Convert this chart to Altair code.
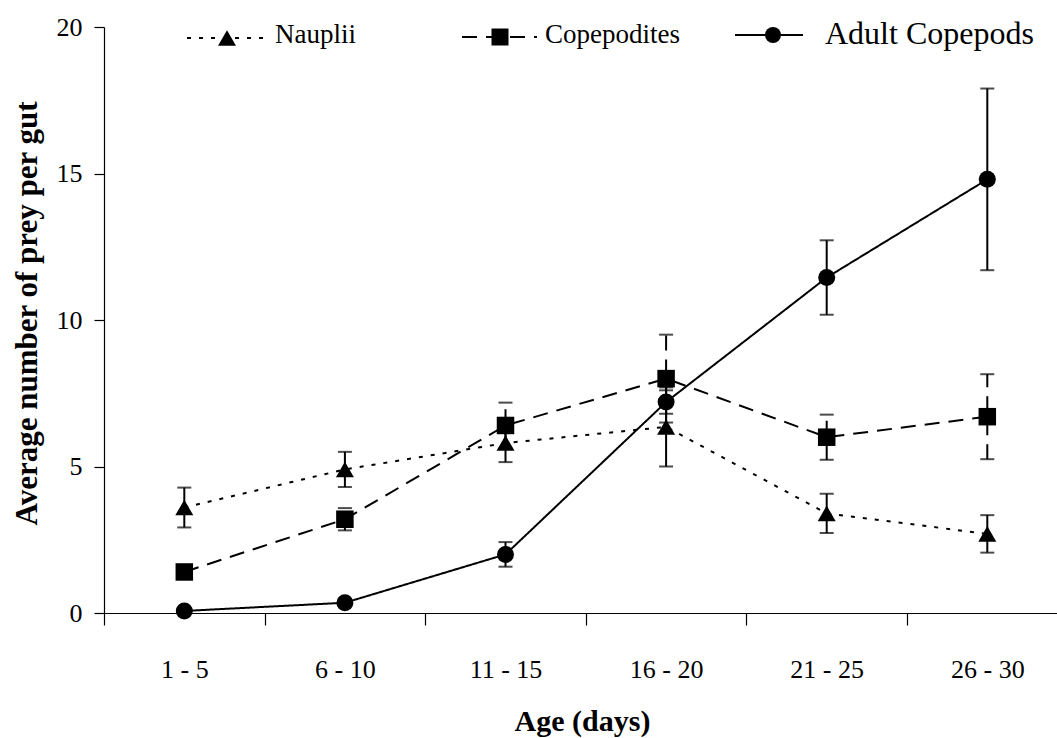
import json
import altair as alt
import pandas as pd

# Age classes on the x axis and the three prey categories
ages = ["1 - 5", "6 - 10", "11 - 15", "16 - 20", "21 - 25", "26 - 30"]
series_names = ["Nauplii", "Copepodites", "Adult Copepods"]

# Mean number of prey per gut and the +/- error for each age class
nauplii_mean = [3.6, 4.9, 5.8, 6.35, 3.4, 2.7]
nauplii_err = [0.68, 0.6, 0.65, 1.35, 0.67, 0.64]
copepodite_mean = [1.4, 3.2, 6.4, 8.0, 6.0, 6.7]
copepodite_err = [0.2, 0.38, 0.78, 1.5, 0.77, 1.45]
adult_mean = [0.07, 0.35, 2.0, 7.2, 11.45, 14.8]
adult_err = [0.05, 0.1, 0.42, 0.4, 1.27, 3.1]

FONT = "Liberation Serif"
W, H = 953, 586
PAD_L, PAD_T = 104, 27
BAND = 160.6  # pixels per age class

rows = []
for name, means, errs in [
    ("Nauplii", nauplii_mean, nauplii_err),
    ("Copepodites", copepodite_mean, copepodite_err),
    ("Adult Copepods", adult_mean, adult_err),
]:
    for i, (m, e) in enumerate(zip(means, errs)):
        rows.append({"idx": i, "age": ages[i], "series": name,
                     "mean": m, "lo": m - e, "hi": m + e})
df = pd.DataFrame(rows)

x_max = -0.5 + W / BAND
x_enc = alt.X(
    "idx:Q",
    scale=alt.Scale(domain=[-0.5, x_max], nice=False, zero=False),
    axis=alt.Axis(
        values=[i - 0.5 for i in range(len(ages))],
        labelExpr=json.dumps(ages) + "[round(datum.value + 0.5)]",
        labelOffset=BAND / 2,
        labelFlush=False,
        labelOverlap=False,
        labelFont=FONT, labelFontSize=26, labelColor="black",
        labelBaseline="alphabetic", labelPadding=52,
        tickSize=12, tickColor="black", tickWidth=1.2,
        domainColor="black", domainWidth=1.2,
        grid=False,
        title="Age (days)", titleFont=FONT, titleFontSize=30,
        titleFontWeight="bold", titleColor="black",
        titleBaseline="alphabetic", titleX=478, titleY=117,
    ),
)
y_scale = alt.Scale(domain=[0, 20], nice=False)
y_enc = alt.Y(
    "mean:Q",
    scale=y_scale,
    axis=alt.Axis(
        values=[0, 5, 10, 15, 20],
        labelFont=FONT, labelFontSize=26, labelColor="black",
        labelPadding=12,
        tickSize=10, tickColor="black", tickWidth=1.2,
        domainColor="black", domainWidth=1.2,
        grid=False,
        title="Average number of prey per gut", titleFont=FONT,
        titleFontSize=31, titleFontWeight="bold", titleColor="black",
        titleAngle=270, titleBaseline="alphabetic",
        titleX=-68, titleY=286,
    ),
)

dash_scale = alt.Scale(domain=series_names, range=[[4, 8], [15, 9], [1, 0]])
shape_scale = alt.Scale(domain=series_names,
                        range=["triangle-up", "square", "circle"])
size_scale = alt.Scale(domain=series_names, range=[324, 289, 256])

base = alt.Chart(df)

lines = base.mark_line(color="black", strokeWidth=2).encode(
    x=x_enc, y=y_enc,
    detail="series:N",
    strokeDash=alt.StrokeDash("series:N", scale=dash_scale, legend=None),
)

# Error bars: copepodite bars are dashed like their line, the others solid
err_solid = base.mark_rule(color="black", strokeWidth=2).encode(
    x="idx:Q", y=alt.Y("lo:Q", scale=y_scale), y2="hi:Q",
).transform_filter(alt.datum.series != "Copepodites")
err_dashed = base.mark_rule(color="black", strokeWidth=2,
                            strokeDash=[15, 9]).encode(
    x="idx:Q", y=alt.Y("lo:Q", scale=y_scale), y2="hi:Q",
).transform_filter(alt.datum.series == "Copepodites")
cap_lo = base.mark_tick(color="black", orient="horizontal", size=14,
                        thickness=2).encode(x="idx:Q",
                                            y=alt.Y("lo:Q", scale=y_scale))
cap_hi = base.mark_tick(color="black", orient="horizontal", size=14,
                        thickness=2).encode(x="idx:Q",
                                            y=alt.Y("hi:Q", scale=y_scale))

points = base.mark_point(filled=True, color="black", opacity=1).encode(
    x="idx:Q", y=alt.Y("mean:Q", scale=y_scale),
    shape=alt.Shape("series:N", scale=shape_scale, legend=None),
    size=alt.Size("series:N", scale=size_scale, legend=None),
)

# Key across the top: line sample, marker, label
key_lines = [(187, 265, 38), (462, 537, 37), (735, 803, 35)]
key_marks = [227, 500, 773]
key_text = [(275, 43, 27), (545, 43, 27), (825, 44, 32)]
key_dash = [[4, 8], [15, 9], [1, 0]]
key_shape = ["triangle-up", "square", "circle"]
key_size = [324, 289, 256]

key_layers = []
for k, name in enumerate(series_names):
    x0, x1, ly = key_lines[k]
    key_layers.append(
        alt.Chart(pd.DataFrame({"series": [name]})).mark_rule(
            color="black", strokeWidth=2, strokeDash=key_dash[k]
        ).encode(x=alt.value(x0 - PAD_L), x2=alt.value(x1 - PAD_L),
                 y=alt.value(ly - PAD_T))
    )
    key_layers.append(
        alt.Chart(pd.DataFrame({"series": [name]})).mark_point(
            filled=True, color="black", opacity=1, shape=key_shape[k],
            size=key_size[k]
        ).encode(x=alt.value(key_marks[k] - PAD_L), y=alt.value(ly - PAD_T))
    )
    tx, ty, fs = key_text[k]
    key_layers.append(
        alt.Chart(pd.DataFrame({"series": [name]})).mark_text(
            align="left", baseline="alphabetic", font=FONT, fontSize=fs,
            color="black"
        ).encode(x=alt.value(tx - PAD_L), y=alt.value(ty - PAD_T),
                 text="series:N")
    )

chart = alt.layer(
    lines, err_solid, err_dashed, cap_lo, cap_hi, points, *key_layers
).properties(
    width=W, height=H,
    autosize=alt.AutoSizeParams(type="none"),
    padding={"left": PAD_L, "top": PAD_T, "right": 0, "bottom": 738 - PAD_T - H},
    background="white",
).configure_view(stroke=None)

chart.save("out.html", embed_options={"renderer": "svg", "actions": False})
